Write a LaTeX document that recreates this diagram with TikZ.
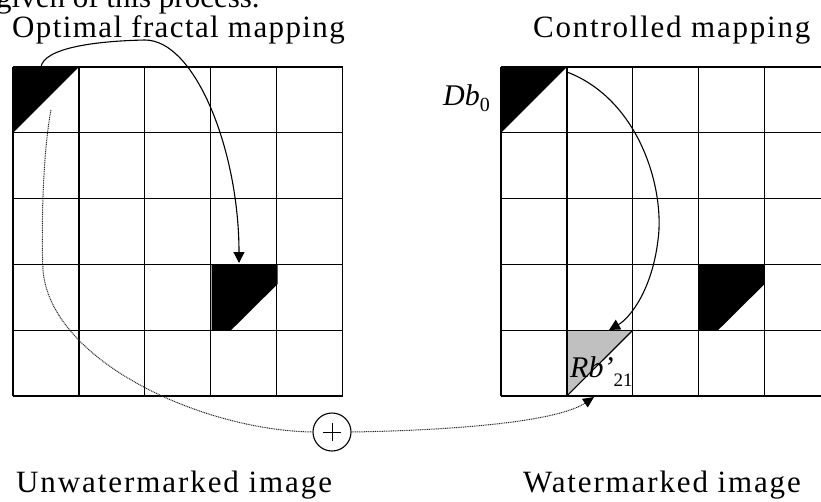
\documentclass[tikz,border=0pt]{standalone}
\usepackage{fontspec}
\setmainfont{Liberation Serif}
\usetikzlibrary{arrows.meta}
\definecolor{cellgray}{RGB}{192,192,192}
\begin{document}
\begin{tikzpicture}[x=1pt,y=-1pt,
  gridline/.style={line width=1.2pt, black},
  title/.style={anchor=base west, inner sep=0pt},
  lbl/.style={anchor=base west, inner sep=0pt, font=\fontsize{30}{32}\selectfont},
  link/.style={line width=1.1pt, -{Triangle[length=11pt,width=11pt]}},
  dotlink/.style={line width=1pt, dash pattern=on 1pt off 0.8pt, black!85},
]
\clip (0,0) rectangle (821,501);
\fill[white] (0,0) rectangle (821,501);
% texts
\node[title, font=\fontsize{31}{34}\selectfont] (top) at (-4,7) {given of this process.};
\node[title, font=\fontsize{31}{34}\selectfont\addfontfeature{LetterSpace=4.5}] (t1) at (12,37) {Optimal fractal mapping};
\node[title, font=\fontsize{31}{34}\selectfont\addfontfeature{LetterSpace=5.7}] (t2) at (533,37) {Controlled mapping};
\node[title, font=\fontsize{31}{34}\selectfont\addfontfeature{LetterSpace=6.2}] (b1) at (16,492) {Unwatermarked image};
\node[title, font=\fontsize{31}{34}\selectfont\addfontfeature{LetterSpace=6}] (b2) at (523,492) {Watermarked image};
% filled shapes
\fill[black] (13,67) -- (78.9,67) -- (13,132.8) -- cycle;
\fill[black] (211.7,264.4) -- (277.6,264.4) -- (277.6,284) -- (231,330.2) -- (211.7,330.2) -- cycle;
\fill[black] (501,67) -- (566.9,67) -- (501,132.8) -- cycle;
\fill[black] (698.7,264.4) -- (764.6,264.4) -- (764.6,284) -- (718,330.2) -- (698.7,330.2) -- cycle;
\fill[cellgray] (566.9,330.2) -- (632.8,330.2) -- (566.9,396) -- cycle;
\draw[line width=1.1pt] (632.8,330.2) -- (566.9,396);
% grids
\foreach \i in {0,...,5} {
  \draw[gridline] ({13+65.9*\i},67) -- ({13+65.9*\i},396);
  \draw[gridline] (13,{67+65.8*\i}) -- (342.5,{67+65.8*\i});
  \draw[gridline] ({501+65.9*\i},67) -- ({501+65.9*\i},396);
  \draw[gridline] (501,{67+65.8*\i}) -- (830.5,{67+65.8*\i});
}
% labels
\node[lbl] (db) at (443,105) {\textit{Db}\raisebox{-6pt}{\fontsize{20}{20}\selectfont 0}};
\node[lbl] (rb) at (570,377) {\textit{Rb’}\raisebox{-9pt}{\fontsize{19}{19}\selectfont 21}};
% solid arrows
\coordinate (a1s) at (41,67);
\coordinate (a1e) at (239,263);
\draw[link] (a1s) .. controls (44,48) and (95,41) .. (145,40) .. controls (195,40) and (239,150) .. (a1e);
\coordinate (a2s) at (567,72);
\coordinate (a2e) at (609,330);
\draw[link] (a2s) .. controls (640,100) and (665,190) .. (658,240) .. controls (652,290) and (630,318) .. (a2e);
% sum node
\node[circle, draw, line width=1.1pt, minimum size=38pt, inner sep=0pt] (sum) at (332,432) {};
\draw[line width=1pt] ([xshift=-9pt]sum.center) -- ([xshift=9pt]sum.center);
\draw[line width=1pt] ([yshift=-9pt]sum.center) -- ([yshift=9pt]sum.center);
% dotted path
\coordinate (ds) at (51,110);
\coordinate (de) at (594,397);
\draw[dotlink] (ds) .. controls (43,150) and (41,230) .. (43,270) .. controls (50,360) and (200,430) .. (sum.west);
\draw[dotlink, -{Triangle[length=11pt,width=10pt,color=black]}] (sum.east) .. controls (470,430) and (560,420) .. (de);
\end{tikzpicture}
\end{document}
